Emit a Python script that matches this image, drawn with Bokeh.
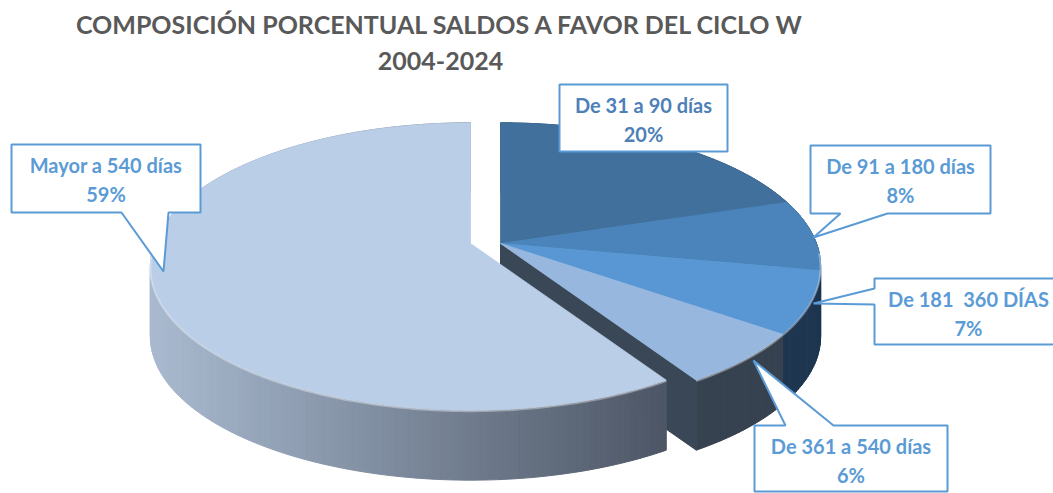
import math
from bokeh.plotting import figure
from bokeh.models import ColumnDataSource, Range1d
from bokeh.embed import file_html
from bokeh.resources import INLINE
from bokeh.core.properties import value

# ---------------- data ----------------
categories = ["De 31 a 90 días", "De 91 a 180 días", "De 181  360 DÍAS",
              "De 361 a 540 días", "Mayor a 540 días"]
values = [20, 8, 7, 6, 59]
pct_labels = ["20%", "8%", "7%", "6%", "59%"]
title_lines = ["COMPOSICIÓN PORCENTUAL SALDOS A FAVOR DEL CICLO W", "2004-2024"]
exploded = [False, False, False, False, True]

# ---------------- style / layout ----------------
W, H = 1053, 493
TOP = ["#41709C", "#4A84BA", "#5897D3", "#97B7DF", "#BACEE7"]
SIDE_LIGHT = ["#2F557C", "#2E5580", "#24405C", "#3D4B5B", "#A9BAD0"]
SIDE_DARK = ["#2A4C70", "#284B72", "#1E3650", "#36424F", "#4A5362"]
FACE = "#3A4756"
CX, CY = 500, 243
A, B, C = 316, 0.16, 140
DEPTH = 70
EXPLODE = (-30, 0)
LABEL_BLUE = "#5B9BD5"
TEXT_BLUE = ["#4E80B8", "#5B9BD5", "#5B9BD5", "#5B9BD5", "#5B9BD5"]
FONT = "Lato"

callouts = [
    dict(box=(559, 84, 727, 151), ptr=None),
    dict(box=(810, 145, 990, 213), ptr=("bottom", 840, 887, (813, 237))),
    dict(box=(874, 278, 1062, 344), ptr=("left", 288, 304, (813, 303))),
    dict(box=(754, 425, 947, 491), ptr=("top", 785, 833, (753, 360))),
    dict(box=(11, 144, 200, 212), ptr=("bottom", 121, 168, (163, 271))),
]

p = figure(width=W, height=H, x_range=Range1d(0, W), y_range=Range1d(H, 0),
           output_backend="svg", toolbar_location=None, min_border=0)
p.axis.visible = False
p.grid.visible = False
p.outline_line_color = None
p.background_fill_color = "white"


def proj(deg, cx, cy, dz=0.0):
    t = math.radians(deg)
    u, v = math.sin(t), -math.cos(t)
    w = 1 - B * v
    return cx + A * u / w, cy + C * v / w + dz


def hex2rgb(h):
    h = h.lstrip("#")
    return tuple(int(h[i:i + 2], 16) for i in (0, 2, 4))


def mix(c1, c2, t):
    a, b = hex2rgb(c1), hex2rgb(c2)
    t = max(0.0, min(1.0, t))
    return "#%02x%02x%02x" % tuple(int(round(a[i] + (b[i] - a[i]) * t)) for i in range(3))


total = float(sum(values))
bounds = []
acc = 0.0
for v in values:
    bounds.append((360 * acc / total, 360 * (acc + v) / total))
    acc += v
N = len(values)


def center_of(i):
    if exploded[i]:
        return CX + EXPLODE[0], CY + EXPLODE[1]
    return CX, CY


def draw_group(idxs):
    # sides
    sx, sy, sc = [], [], []
    for i in idxs:
        a0, a1 = bounds[i]
        cx, cy = center_of(i)
        n = max(6, int(a1 - a0))
        angs = [a0 + (a1 - a0) * k / n for k in range(n + 1)]
        for k in range(n):
            x0, y0 = proj(angs[k], cx, cy)
            x1, y1 = proj(angs[k + 1], cx, cy)
            xm = (x0 + x1) / 2
            tt = (xm - 150) / (680 - 150)
            col = mix(SIDE_LIGHT[i], SIDE_DARK[i], tt)
            sx.append([x0, x1, x1, x0])
            sy.append([y0, y1, y1 + DEPTH, y0 + DEPTH])
            sc.append(col)
    p.patches(xs="xs", ys="ys", fill_color="c", line_color="c", line_width=1,
              source=ColumnDataSource(dict(xs=sx, ys=sy, c=sc)))
    # radial cut faces exposed by the explosion and facing the viewer
    fx, fy = [], []
    for i in idxs:
        a0, a1 = bounds[i]
        cx, cy = center_of(i)
        prev_i, next_i = (i - 1) % N, (i + 1) % N
        for ang, sgn, nb in ((a0, -90, prev_i), (a1, 90, next_i)):
            if exploded[nb] == exploded[i]:
                continue
            nv = -math.cos(math.radians(ang + sgn))
            if nv > 0.05:
                ox, oy = proj(ang, cx, cy)
                fx.append([cx, ox, ox, cx])
                fy.append([cy, oy, oy + DEPTH, cy + DEPTH])
    if fx:
        p.patches(xs=fx, ys=fy, fill_color=FACE, line_color=FACE, line_width=1)
    # tops
    tx, ty, tc = [], [], []
    for i in idxs:
        a0, a1 = bounds[i]
        cx, cy = center_of(i)
        n = max(6, int(a1 - a0))
        xs, ys = [cx], [cy]
        for k in range(n + 1):
            x, y = proj(a0 + (a1 - a0) * k / n, cx, cy)
            xs.append(x)
            ys.append(y)
        tx.append(xs)
        ty.append(ys)
        tc.append(TOP[i])
    p.patches(xs="xs", ys="ys", fill_color="c", line_color="c", line_width=0.8,
              source=ColumnDataSource(dict(xs=tx, ys=ty, c=tc)))
    # soft rim highlight on the front edge
    for i in idxs:
        a0, a1 = bounds[i]
        cx, cy = center_of(i)
        n = max(6, int(a1 - a0))
        hx, hy = [], []
        for k in range(n + 1):
            ang = a0 + (a1 - a0) * k / n
            if -math.cos(math.radians(ang)) > 0.05:
                x, y = proj(ang, cx, cy)
                hx.append(x)
                hy.append(y + 1)
        if len(hx) > 1:
            p.line(hx, hy, line_color="white", line_alpha=0.35, line_width=2)


draw_group([i for i in range(N) if not exploded[i]])
draw_group([i for i in range(N) if exploded[i]])

# ---------------- callouts ----------------
for i, co in enumerate(callouts):
    l, t, r, b = co["box"]
    ptr = co["ptr"]
    if ptr is None:
        xs, ys = [l, r, r, l], [t, t, b, b]
    elif ptr[0] == "bottom":
        _, b1, b2, (tx_, ty_) = ptr
        xs = [l, r, r, b2, tx_, b1, l]
        ys = [t, t, b, b, ty_, b, b]
    elif ptr[0] == "left":
        _, b1, b2, (tx_, ty_) = ptr
        xs = [l, r, r, l, l, tx_, l]
        ys = [t, t, b, b, b2, ty_, b1]
    else:  # top
        _, b1, b2, (tx_, ty_) = ptr
        xs = [l, b1, tx_, b2, r, r, l]
        ys = [t, t, ty_, t, t, b, b]
    p.patch(xs, ys, fill_color="white", line_color=LABEL_BLUE, line_width=2)
    xc = (l + r) / 2
    shown = categories[i].replace("  ", " \u00a0")
    p.text(x=[xc, xc], y=[t + 20, t + 49], text=[shown, pct_labels[i]],
           text_font=value(FONT), text_font_style="bold", text_font_size="20px",
           text_color=TEXT_BLUE[i], text_align="center", text_baseline="middle")

# ---------------- title ----------------
p.text(x=[440, 440], y=[23, 60], text=title_lines, text_font=value(FONT),
       text_font_style="bold", text_font_size="25px", text_color="#595959",
       text_align="center", text_baseline="middle")

open("out.html", "w").write(file_html(p, INLINE))
